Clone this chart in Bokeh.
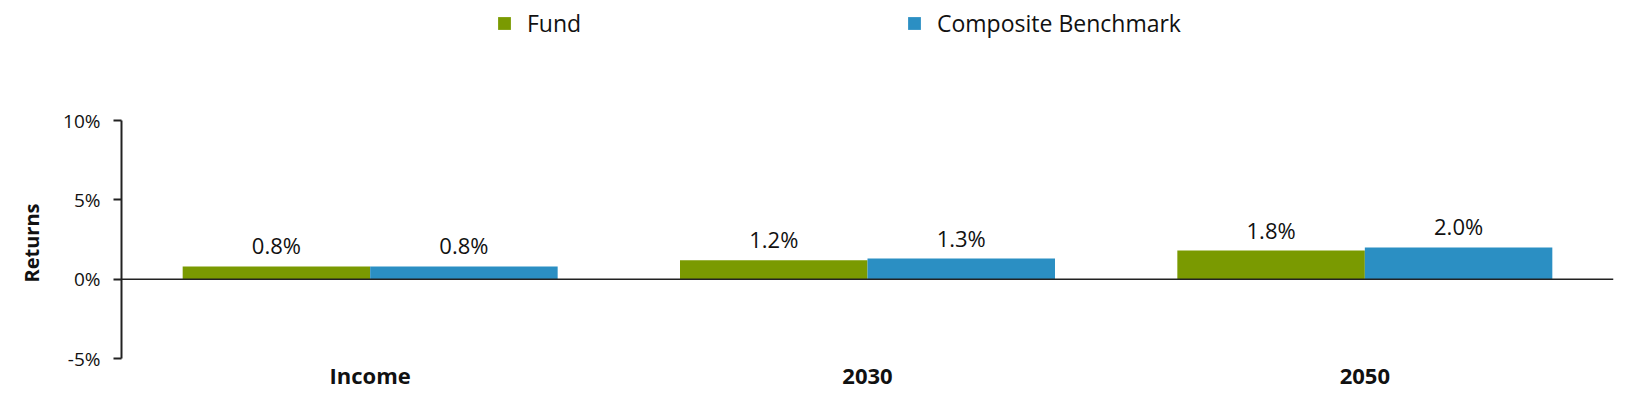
from bokeh.plotting import figure
from bokeh.models import (ColumnDataSource, FactorRange, Range1d, FixedTicker,
                          PrintfTickFormatter, Span, Legend, LegendItem, Title)
from bokeh.transform import dodge
from bokeh.core.properties import value
from bokeh.embed import file_html
from bokeh.resources import INLINE

# ---- data ----
categories = ["Income", "2030", "2050"]
fund = [0.8, 1.2, 1.8]
benchmark = [0.8, 1.3, 2.0]
fund_labels = ["0.8%", "1.2%", "1.8%"]
bench_labels = ["0.8%", "1.3%", "2.0%"]
y_ticks = [-5, 0, 5, 10]
series_names = ["Fund", "Composite Benchmark"]
y_title = "Returns"

FONT = "Open Sans"
TXT = "#111111"
GREEN = "#7a9a01"
BLUE = "#2b8fc3"

# frame spans the full top area (legend lives inside it); the axis is bounded to -5..10
Y_MIN, Y_MAX_AXIS = -5, 10
top_pad_px = 120
px_per_unit = 238 / (Y_MAX_AXIS - Y_MIN)
Y_TOP = Y_MAX_AXIS + top_pad_px / px_per_unit

src = ColumnDataSource(dict(cat=categories, fund=fund, bench=benchmark,
                            fund_lbl=fund_labels, bench_lbl=bench_labels))

p = figure(width=1620, height=395, x_range=FactorRange(*categories, range_padding=0),
           y_range=Range1d(Y_MIN, Y_TOP), output_backend="svg", toolbar_location=None,
           min_border_left=121, min_border_right=7, min_border_top=0,
           min_border_bottom=37)
p.outline_line_color = None
p.xgrid.visible = False
p.ygrid.visible = False
p.background_fill_color = "white"
p.border_fill_color = "white"

bw = 0.377
off = 0.1885
r1 = p.vbar(x=dodge("cat", -off, range=p.x_range), top="fund", bottom=0, width=bw,
            source=src, fill_color=GREEN, line_color=None)
r2 = p.vbar(x=dodge("cat", off, range=p.x_range), top="bench", bottom=0, width=bw,
            source=src, fill_color=BLUE, line_color=None)

p.add_layout(Span(location=0, dimension="width", line_color="#222222", line_width=1.5))

for col, lbl, o in (("fund", "fund_lbl", -off), ("bench", "bench_lbl", off)):
    p.text(x=dodge("cat", o, range=p.x_range), y=col, text=lbl, source=src,
           text_align="center", text_baseline="alphabetic", y_offset=-21,
           text_font=value(FONT), text_font_size="22px", text_color=TXT)

# y axis
ya = p.yaxis[0]
ya.bounds = (Y_MIN, Y_MAX_AXIS)
ya.ticker = FixedTicker(ticks=y_ticks)
ya.formatter = PrintfTickFormatter(format="%d%%")
ya.axis_line_color = "#222222"
ya.axis_line_width = 2
ya.major_tick_line_color = "#222222"
ya.major_tick_line_width = 2
ya.major_tick_out = 8
ya.major_tick_in = 0
ya.minor_tick_line_color = None
ya.major_label_standoff = 13
ya.major_label_text_font = FONT
ya.major_label_text_font_size = "19px"
ya.major_label_text_color = TXT

# y title placed alongside the bounded axis section
p.add_layout(Title(text=y_title, align="left", offset=76, standoff=31,
                   text_font=FONT, text_font_size="20px", text_font_style="bold",
                   text_color=TXT), "left")

# x axis
xa = p.xaxis[0]
xa.axis_line_color = None
xa.major_tick_line_color = None
xa.minor_tick_line_color = None
xa.major_label_standoff = -5
xa.major_label_text_font = FONT
xa.major_label_text_font_size = "22px"
xa.major_label_text_font_style = "bold"
xa.major_label_text_color = TXT

legend = Legend(items=[LegendItem(label=series_names[0], renderers=[r1]),
                       LegendItem(label=series_names[1], renderers=[r2])],
                orientation="horizontal", location=(375, 319),
                glyph_width=16, glyph_height=16, label_standoff=15,
                label_width=379, label_height=23, spacing=0, padding=0, margin=0,
                border_line_color=None, background_fill_alpha=0,
                label_text_font=FONT, label_text_font_size="23px",
                label_text_line_height=0.9,
                label_text_baseline="alphabetic", label_text_color=TXT)
p.add_layout(legend, "center")

open("out.html", "w").write(file_html(p, INLINE))
